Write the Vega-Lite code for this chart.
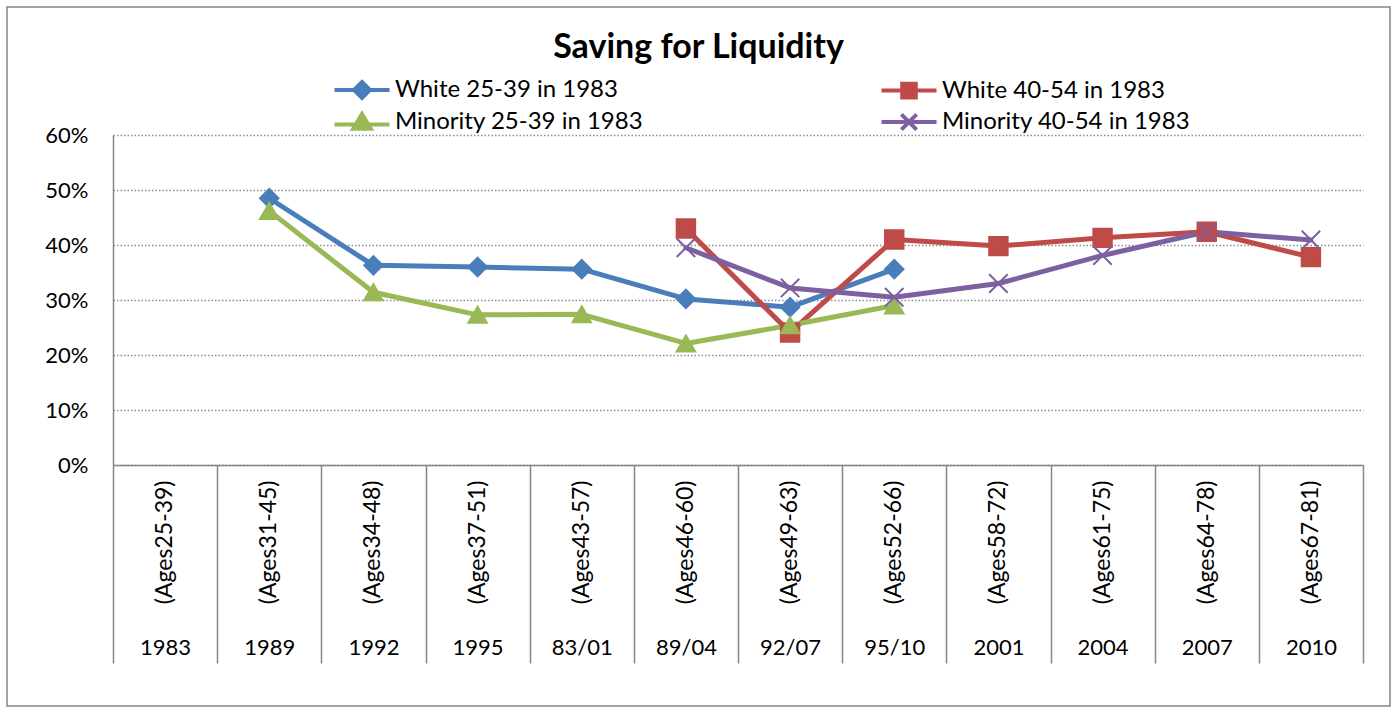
{
  "$schema": "https://vega.github.io/schema/vega-lite/v6.json",
  "width": 1383,
  "height": 699,
  "autosize": {"type": "none"},
  "padding": {"left": 7, "top": 7, "right": 8, "bottom": 5},
  "background": "white",
  "title": {"text": "Saving for Liquidity", "font": "Lato", "fontSize": 34, "fontWeight": "bold", "color": "black", "anchor": "middle", "frame": "group", "baseline": "alphabetic", "offset": -85},
  "config": {"view": {"stroke": "#868686", "strokeWidth": 1.5}, "font": "Lato"},
  "data": {"values": [
    {"period": "1989|(Ages31-45)", "series": "White 25-39 in 1983", "v": 0.485},
    {"period": "1992|(Ages34-48)", "series": "White 25-39 in 1983", "v": 0.363},
    {"period": "1995|(Ages37-51)", "series": "White 25-39 in 1983", "v": 0.360},
    {"period": "83/01|(Ages43-57)", "series": "White 25-39 in 1983", "v": 0.356},
    {"period": "89/04|(Ages46-60)", "series": "White 25-39 in 1983", "v": 0.302},
    {"period": "92/07|(Ages49-63)", "series": "White 25-39 in 1983", "v": 0.287},
    {"period": "95/10|(Ages52-66)", "series": "White 25-39 in 1983", "v": 0.356},
    {"period": "89/04|(Ages46-60)", "series": "White 40-54 in 1983", "v": 0.430},
    {"period": "92/07|(Ages49-63)", "series": "White 40-54 in 1983", "v": 0.241},
    {"period": "95/10|(Ages52-66)", "series": "White 40-54 in 1983", "v": 0.410},
    {"period": "2001|(Ages58-72)", "series": "White 40-54 in 1983", "v": 0.398},
    {"period": "2004|(Ages61-75)", "series": "White 40-54 in 1983", "v": 0.413},
    {"period": "2007|(Ages64-78)", "series": "White 40-54 in 1983", "v": 0.424},
    {"period": "2010|(Ages67-81)", "series": "White 40-54 in 1983", "v": 0.378},
    {"period": "1989|(Ages31-45)", "series": "Minority 25-39 in 1983", "v": 0.462},
    {"period": "1992|(Ages34-48)", "series": "Minority 25-39 in 1983", "v": 0.314},
    {"period": "1995|(Ages37-51)", "series": "Minority 25-39 in 1983", "v": 0.273},
    {"period": "83/01|(Ages43-57)", "series": "Minority 25-39 in 1983", "v": 0.274},
    {"period": "89/04|(Ages46-60)", "series": "Minority 25-39 in 1983", "v": 0.221},
    {"period": "92/07|(Ages49-63)", "series": "Minority 25-39 in 1983", "v": 0.254},
    {"period": "95/10|(Ages52-66)", "series": "Minority 25-39 in 1983", "v": 0.290},
    {"period": "89/04|(Ages46-60)", "series": "Minority 40-54 in 1983", "v": 0.395},
    {"period": "92/07|(Ages49-63)", "series": "Minority 40-54 in 1983", "v": 0.322},
    {"period": "95/10|(Ages52-66)", "series": "Minority 40-54 in 1983", "v": 0.305},
    {"period": "2001|(Ages58-72)", "series": "Minority 40-54 in 1983", "v": 0.330},
    {"period": "2004|(Ages61-75)", "series": "Minority 40-54 in 1983", "v": 0.381},
    {"period": "2007|(Ages64-78)", "series": "Minority 40-54 in 1983", "v": 0.424},
    {"period": "2010|(Ages67-81)", "series": "Minority 40-54 in 1983", "v": 0.409}
  ]},
  "resolve": {
    "scale": {"color": "independent", "fill": "independent", "stroke": "independent", "shape": "independent"},
    "axis": {"x": "independent"}
  },
  "layer": [
    {
      "mark": {"type": "line", "strokeWidth": 5, "strokeJoin": "round", "strokeCap": "round"},
      "encoding": {
        "x": {
          "field": "period", "type": "nominal", "sort": null,
          "scale": {"type": "band", "domain": ["1983|(Ages25-39)", "1989|(Ages31-45)", "1992|(Ages34-48)", "1995|(Ages37-51)", "83/01|(Ages43-57)", "89/04|(Ages46-60)", "92/07|(Ages49-63)", "95/10|(Ages52-66)", "2001|(Ages58-72)", "2004|(Ages61-75)", "2007|(Ages64-78)", "2010|(Ages67-81)"], "range": [106, 1356], "paddingInner": 0, "paddingOuter": 0},
          "axis": {"orient": "bottom", "offset": -241, "title": null, "tickBand": "extent", "tickSize": 198, "tickColor": "#868686", "tickWidth": 1.5, "domainColor": "#868686", "domainWidth": 1.5, "grid": false, "labelExpr": "isValid(datum.value) ? split(datum.value, '|')[0] : ''", "labelAngle": 0, "labelAlign": "center", "labelBaseline": "middle", "labelPadding": -16, "labelFont": "Lato", "labelFontSize": 22, "labelColor": "black", "labelOverlap": false}
        },
        "y": {
          "field": "v", "type": "quantitative",
          "scale": {"domain": [0, 0.6], "range": [458, 128], "nice": false},
          "axis": {"orient": "left", "offset": -106, "title": null, "values": [0, 0.1, 0.2, 0.3, 0.4, 0.5, 0.6], "format": ".0%", "ticks": false, "domainColor": "#868686", "domainWidth": 1.5, "grid": true, "gridColor": "#8c8c8c", "gridDash": [1.5, 2], "gridWidth": 1.5, "labelFont": "Lato", "labelFontSize": 22, "labelColor": "black", "labelPadding": 25}
        },
        "color": {"field": "series", "type": "nominal", "scale": {"domain": ["White 25-39 in 1983", "White 40-54 in 1983", "Minority 25-39 in 1983", "Minority 40-54 in 1983"], "range": ["#4A7EBB", "#BE4B48", "#98B954", "#7D60A0"]}, "legend": null}
      }
    },
    {
      "mark": {"type": "point", "filled": true, "size": 340, "strokeWidth": 2, "opacity": 1},
      "encoding": {
        "x": {
          "field": "period", "type": "nominal", "sort": null,
          "axis": {"orient": "bottom", "offset": -241, "title": null, "ticks": false, "domain": false, "grid": false, "labelExpr": "isValid(datum.value) ? split(datum.value, '|')[1] : ''", "labelAngle": -90, "labelAlign": "right", "labelBaseline": "middle", "labelPadding": 15, "labelFont": "Lato", "labelFontSize": 23, "labelColor": "black", "labelOverlap": false}
        },
        "y": {"field": "v", "type": "quantitative"},
        "fill": {"field": "series", "type": "nominal", "scale": {"domain": ["White 25-39 in 1983", "White 40-54 in 1983", "Minority 25-39 in 1983", "Minority 40-54 in 1983"], "range": ["#4A7EBB", "#BE4B48", "#98B954", "#7D60A0"]}, "legend": null},
        "stroke": {"field": "series", "type": "nominal", "scale": {"domain": ["White 25-39 in 1983", "White 40-54 in 1983", "Minority 25-39 in 1983", "Minority 40-54 in 1983"], "range": ["#4A7EBB", "#BE4B48", "#98B954", "#7D60A0"]}, "legend": null},
        "shape": {"field": "series", "type": "nominal", "scale": {"domain": ["White 25-39 in 1983", "White 40-54 in 1983", "Minority 25-39 in 1983", "Minority 40-54 in 1983"], "range": ["diamond", "square", "triangle-up", "M-1,-1L1,1M-1,1L1,-1"]}, "legend": null}
      }
    },
    {
      "transform": [{"filter": "false"}],
      "mark": {"type": "point", "filled": true},
      "encoding": {
        "x": {"field": "period", "type": "nominal", "sort": null, "axis": null},
        "y": {"field": "v", "type": "quantitative"},
        "fill": {"field": "series", "type": "nominal", "scale": {"domain": ["White 25-39 in 1983", "Minority 25-39 in 1983", "White 40-54 in 1983", "Minority 40-54 in 1983"], "range": ["#4A7EBB", "#98B954", "#BE4B48", "#7D60A0"]},
          "legend": {"title": null, "orient": "none", "legendX": 343, "legendY": 71, "columns": 2, "columnPadding": 229, "rowPadding": 0, "symbolSize": 256, "symbolStrokeWidth": 4, "symbolOpacity": 1, "labelFont": "Lato", "labelFontSize": 24, "labelColor": "black", "labelOffset": 21, "padding": 0, "labelLimit": 0}},
        "stroke": {"field": "series", "type": "nominal", "scale": {"domain": ["White 25-39 in 1983", "Minority 25-39 in 1983", "White 40-54 in 1983", "Minority 40-54 in 1983"], "range": ["#4A7EBB", "#98B954", "#BE4B48", "#7D60A0"]},
          "legend": {"title": null, "orient": "none", "legendX": 343, "legendY": 71, "columns": 2, "columnPadding": 229, "rowPadding": 0, "symbolSize": 256, "symbolStrokeWidth": 4, "symbolOpacity": 1, "labelFont": "Lato", "labelFontSize": 24, "labelColor": "black", "labelOffset": 21, "padding": 0, "labelLimit": 0}},
        "shape": {"field": "series", "type": "nominal", "scale": {"domain": ["White 25-39 in 1983", "Minority 25-39 in 1983", "White 40-54 in 1983", "Minority 40-54 in 1983"], "range": ["M-3.44,0H3.44M0,-1L1,0L0,1L-1,0Z", "M-3.44,0.3H3.44M0,-1L1.1,0.85L-1.1,0.85Z", "M-3.44,0H3.44M-0.85,-0.85H0.85V0.85H-0.85Z", "M-3.44,0H3.44M-0.95,-0.95L0.95,0.95M-0.95,0.95L0.95,-0.95"]},
          "legend": {"title": null, "orient": "none", "legendX": 343, "legendY": 71, "columns": 2, "columnPadding": 229, "rowPadding": 0, "symbolSize": 256, "symbolStrokeWidth": 4, "symbolOpacity": 1, "labelFont": "Lato", "labelFontSize": 24, "labelColor": "black", "labelOffset": 21, "padding": 0, "labelLimit": 0}}
      }
    }
  ]
}
